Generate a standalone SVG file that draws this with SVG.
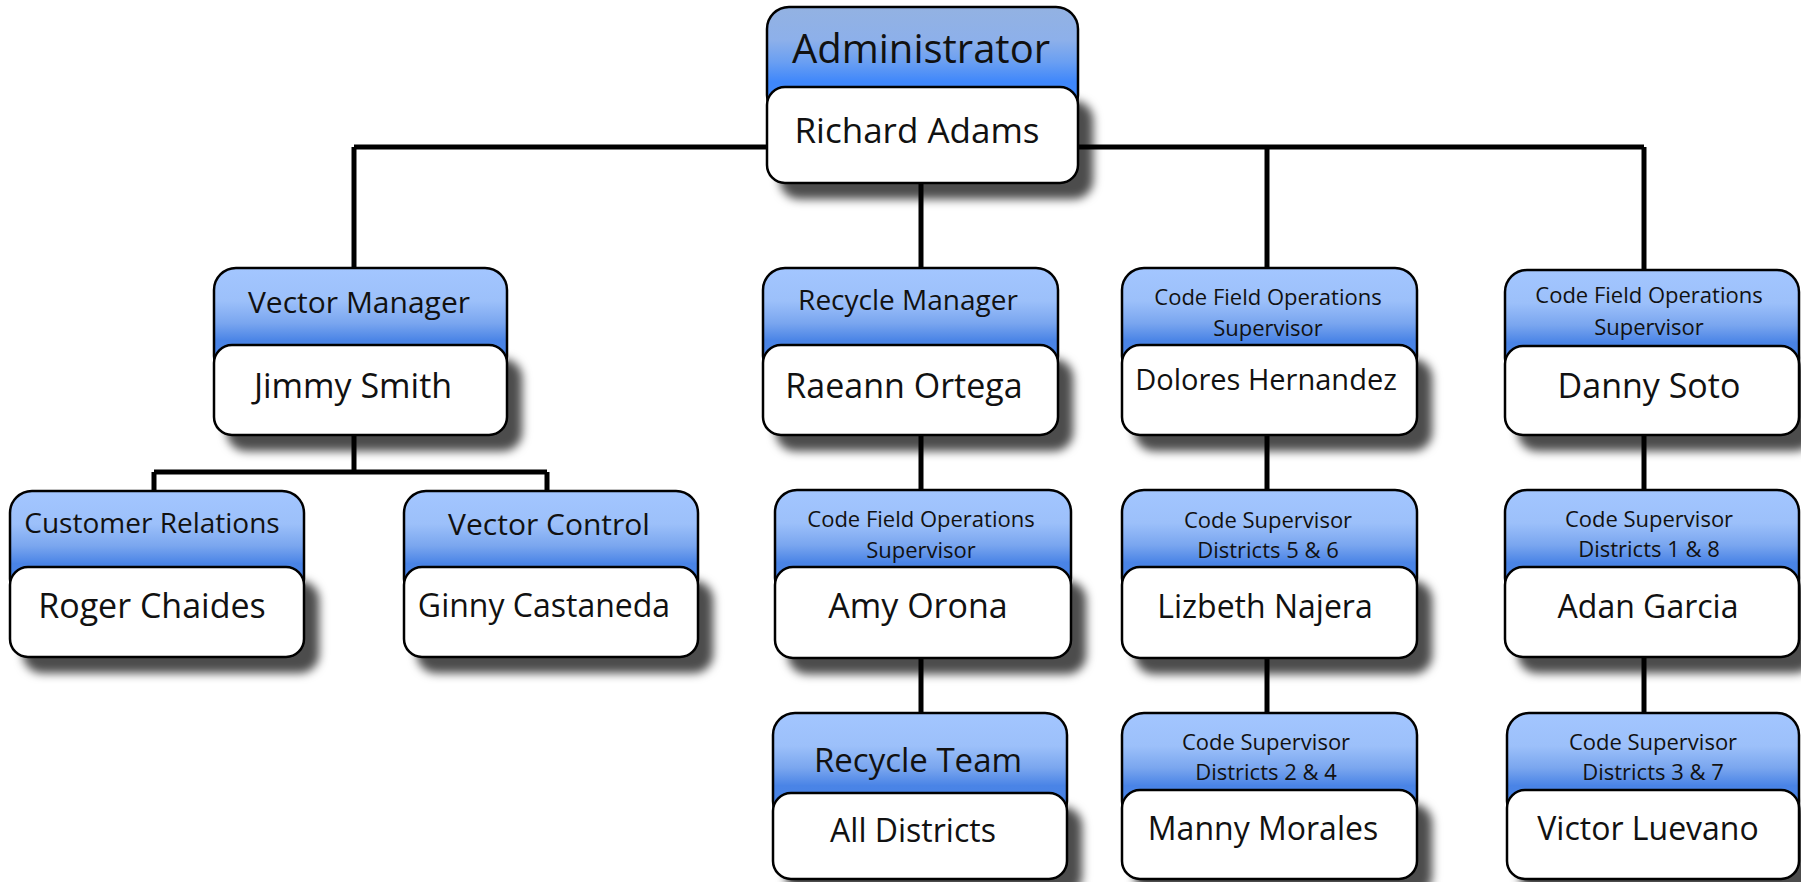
<svg xmlns="http://www.w3.org/2000/svg" width="1801" height="882" viewBox="0 0 1801 882">
<defs>
<linearGradient id="hg" x1="0" y1="0" x2="0" y2="1">
<stop offset="0" stop-color="#a3c6ff"/>
<stop offset="0.3" stop-color="#9cc0fa"/>
<stop offset="0.5" stop-color="#7aa6ef"/>
<stop offset="0.66" stop-color="#4a84e6"/>
<stop offset="1" stop-color="#4581e6"/>
</linearGradient>
<linearGradient id="hga" x1="0" y1="0" x2="0" y2="1">
<stop offset="0" stop-color="#93b2e2"/>
<stop offset="0.3" stop-color="#8db0ea"/>
<stop offset="0.5" stop-color="#6a9ff2"/>
<stop offset="0.68" stop-color="#3f87fb"/>
<stop offset="1" stop-color="#3f87fb"/>
</linearGradient>
<filter id="sh" x="-10%" y="-10%" width="130%" height="140%">
<feDropShadow dx="14" dy="15" stdDeviation="5" flood-color="#000" flood-opacity="0.7"/>
</filter>
</defs>
<style>
.hd{fill:url(#hg);stroke:#000;stroke-width:2.5}
.hda{fill:url(#hga);stroke:#000;stroke-width:2.5}
.bd{fill:#fff;stroke:#000;stroke-width:2.5;filter:url(#sh)}
text{font-family:"Open Sans","Noto Sans","DejaVu Sans",sans-serif;fill:#111;text-anchor:middle}
.t22{font-size:22px}
.t28{font-size:28px}
.t30{font-size:30px}
.t32{font-size:32px}
.t34{font-size:34px}
.conn{fill:none;stroke:#000;stroke-width:5}
</style>
<rect width="1801" height="882" fill="#fff"/>
<g id="connectors" class="conn">
<path d="M354,147 H1644"/>
<path d="M354,147 V268"/>
<path d="M921,183 V268"/>
<path d="M1267,147 V268"/>
<path d="M1644,147 V270"/>
<path d="M354,435 V472 M154,472 H547 M154,472 V491 M547,472 V491"/>
<path d="M921,435 V490 M921,658 V713"/>
<path d="M1267,435 V490 M1267,658 V713"/>
<path d="M1644,435 V490 M1644,657 V713"/>
</g>
<g id="n-admin">
<rect class="hda" x="767" y="7" width="311" height="110" rx="22"/>
<rect class="bd" x="767" y="87" width="311" height="96" rx="18"/>
<text x="921" y="63" style="font-size:40px">Administrator</text>
<text x="917" y="143" style="font-size:35px">Richard Adams</text>
</g>
<g id="n-vector-manager">
<rect class="hd" x="214" y="268" width="293" height="110" rx="22"/>
<rect class="bd" x="214" y="345" width="293" height="90" rx="18"/>
<text class="t30" x="359" y="313">Vector Manager</text>
<text class="t34" x="353" y="398">Jimmy Smith</text>
</g>
<g id="n-customer-relations">
<rect class="hd" x="10" y="491" width="294" height="110" rx="22"/>
<rect class="bd" x="10" y="567" width="294" height="90" rx="18"/>
<text class="t28" x="152" y="533">Customer Relations</text>
<text class="t34" x="152" y="618">Roger Chaides</text>
</g>
<g id="n-vector-control">
<rect class="hd" x="404" y="491" width="294" height="110" rx="22"/>
<rect class="bd" x="404" y="567" width="294" height="90" rx="18"/>
<text class="t30" x="549" y="535">Vector Control</text>
<text class="t32" x="544" y="617">Ginny Castaneda</text>
</g>
<g id="n-recycle-manager">
<rect class="hd" x="763" y="268" width="295" height="110" rx="22"/>
<rect class="bd" x="763" y="345" width="295" height="90" rx="18"/>
<text class="t28" x="908" y="310">Recycle Manager</text>
<text class="t34" x="904" y="398">Raeann Ortega</text>
</g>
<g id="n-amy">
<rect class="hd" x="775" y="490" width="296" height="110" rx="22"/>
<rect class="bd" x="775" y="567" width="296" height="91" rx="18"/>
<text class="t22" x="921" y="527">Code Field Operations</text>
<text class="t22" x="921" y="558">Supervisor</text>
<text class="t34" x="918" y="618">Amy Orona</text>
</g>
<g id="n-recycle-team">
<rect class="hd" x="773" y="713" width="294" height="110" rx="22"/>
<rect class="bd" x="773" y="793" width="294" height="86" rx="18"/>
<text x="918" y="772" style="font-size:33px">Recycle Team</text>
<text class="t32" x="913" y="842">All Districts</text>
</g>
<g id="n-dolores">
<rect class="hd" x="1122" y="268" width="295" height="110" rx="22"/>
<rect class="bd" x="1122" y="345" width="295" height="90" rx="18"/>
<text class="t22" x="1268" y="305">Code Field Operations</text>
<text class="t22" x="1268" y="336">Supervisor</text>
<text x="1266" y="390" style="font-size:29px">Dolores Hernandez</text>
</g>
<g id="n-lizbeth">
<rect class="hd" x="1122" y="490" width="295" height="110" rx="22"/>
<rect class="bd" x="1122" y="567" width="295" height="91" rx="18"/>
<text class="t22" x="1268" y="528">Code Supervisor</text>
<text class="t22" x="1268" y="558">Districts 5 &amp; 6</text>
<text class="t32" x="1265" y="618">Lizbeth Najera</text>
</g>
<g id="n-manny">
<rect class="hd" x="1122" y="713" width="295" height="110" rx="22"/>
<rect class="bd" x="1122" y="790" width="295" height="89" rx="18"/>
<text class="t22" x="1266" y="750">Code Supervisor</text>
<text class="t22" x="1266" y="780">Districts 2 &amp; 4</text>
<text class="t32" x="1263" y="840">Manny Morales</text>
</g>
<g id="n-danny">
<rect class="hd" x="1505" y="270" width="294" height="110" rx="22"/>
<rect class="bd" x="1505" y="346" width="294" height="89" rx="18"/>
<text class="t22" x="1649" y="303">Code Field Operations</text>
<text class="t22" x="1649" y="335">Supervisor</text>
<text class="t34" x="1649" y="398">Danny Soto</text>
</g>
<g id="n-adan">
<rect class="hd" x="1505" y="490" width="294" height="110" rx="22"/>
<rect class="bd" x="1505" y="567" width="294" height="90" rx="18"/>
<text class="t22" x="1649" y="527">Code Supervisor</text>
<text class="t22" x="1649" y="557">Districts 1 &amp; 8</text>
<text class="t32" x="1648" y="618">Adan Garcia</text>
</g>
<g id="n-victor">
<rect class="hd" x="1507" y="713" width="292" height="110" rx="22"/>
<rect class="bd" x="1507" y="790" width="292" height="89" rx="18"/>
<text class="t22" x="1653" y="750">Code Supervisor</text>
<text class="t22" x="1653" y="780">Districts 3 &amp; 7</text>
<text class="t32" x="1648" y="840">Victor Luevano</text>
</g>
</svg>
